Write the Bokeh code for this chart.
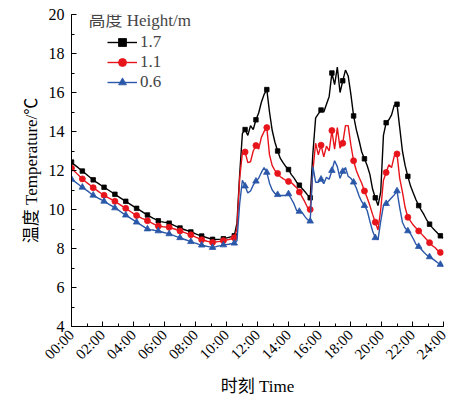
import math
from bokeh.plotting import figure
from bokeh.models import FixedTicker, Label, Legend, LegendItem
from bokeh.embed import file_html
from bokeh.resources import INLINE

# time grid: one reading every 0.175 h (markers every 4th reading = 0.7 h)
step_h = 0.175
n_pts = 138

t_17 = [12.43, 12.3, 12.2, 12.08, 11.97, 11.86, 11.74, 11.63, 11.52, 11.42,
        11.33, 11.23, 11.14, 11.05, 10.96, 10.87, 10.78, 10.69, 10.6, 10.51,
        10.42, 10.33, 10.24, 10.15, 10.06, 9.98, 9.89, 9.8, 9.72, 9.64,
        9.56, 9.49, 9.42, 9.38, 9.35, 9.33, 9.3, 9.24, 9.17, 9.11,
        9.05, 9.0, 8.95, 8.9, 8.85, 8.8, 8.74, 8.69, 8.64, 8.6,
        8.55, 8.51, 8.47, 8.46, 8.47, 8.48, 8.5, 8.53, 8.57, 8.61,
        8.65, 9.3, 11.8, 13.9, 14.1, 13.8, 14.3, 14.1, 14.6, 14.95,
        15.5, 15.9, 16.15, 15.0, 14.05, 13.45, 13.0, 12.62, 12.4, 12.2,
        12.05, 11.8, 11.62, 11.4, 11.25, 11.08, 10.92, 10.75, 10.6, 12.9,
        14.7, 14.9, 15.1, 15.0, 15.4, 15.8, 17.0, 16.4, 17.3, 16.0,
        16.6, 17.15, 16.85, 15.9, 14.8, 14.1, 13.55, 12.95, 12.6, 12.26,
        11.8, 11.05, 10.6, 10.2, 10.9, 13.8, 14.45, 14.6, 14.85, 15.35,
        15.4, 14.2, 13.0, 12.25, 11.7, 11.2, 10.85, 10.5, 10.2, 9.95,
        9.72, 9.45, 9.25, 9.07, 8.92, 8.78, 8.65, 8.52]

t_11 = [12.12, 11.98, 11.84, 11.7, 11.57, 11.45, 11.34, 11.23, 11.12, 11.02,
        10.92, 10.82, 10.73, 10.65, 10.57, 10.5, 10.42, 10.33, 10.24, 10.15,
        10.06, 9.97, 9.87, 9.78, 9.69, 9.62, 9.55, 9.49, 9.42, 9.35,
        9.28, 9.21, 9.15, 9.13, 9.11, 9.1, 9.09, 9.04, 9.0, 8.95,
        8.9, 8.85, 8.8, 8.75, 8.7, 8.64, 8.57, 8.51, 8.45, 8.41,
        8.37, 8.34, 8.31, 8.33, 8.35, 8.37, 8.4, 8.43, 8.46, 8.5,
        8.55, 9.0, 11.6, 12.9, 12.95, 12.4, 12.45, 13.0, 13.28, 13.1,
        13.7, 14.0, 14.2, 12.8, 12.25, 12.0, 11.85, 11.68, 11.58, 11.5,
        11.44, 11.38, 11.25, 11.12, 10.9, 10.65, 10.4, 10.1, 10.0, 12.0,
        13.4, 12.8, 13.3, 12.7, 13.25, 13.0, 14.05, 13.1, 14.2, 13.15,
        13.4, 14.3, 14.3, 13.3, 12.5, 12.0, 11.65, 11.35, 10.95, 10.6,
        10.2, 9.75, 9.35, 8.95, 10.0, 11.5, 11.9, 12.3, 12.15, 12.75,
        12.85, 11.6, 10.9, 10.1, 9.6, 9.4, 9.2, 9.05, 8.9, 8.75,
        8.6, 8.45, 8.3, 8.15, 8.05, 7.9, 7.8, 7.7]

t_06 = [11.55, 11.45, 11.35, 11.24, 11.14, 11.04, 10.94, 10.83, 10.73, 10.65,
        10.57, 10.5, 10.42, 10.34, 10.25, 10.17, 10.08, 9.99, 9.9, 9.8,
        9.71, 9.62, 9.53, 9.44, 9.35, 9.26, 9.17, 9.08, 9.0, 8.97,
        8.95, 8.92, 8.9, 8.86, 8.82, 8.79, 8.75, 8.7, 8.65, 8.6,
        8.55, 8.5, 8.45, 8.4, 8.35, 8.3, 8.26, 8.21, 8.17, 8.14,
        8.11, 8.08, 8.05, 8.08, 8.12, 8.15, 8.18, 8.2, 8.22, 8.25,
        8.27, 8.4, 10.3, 11.5, 11.2, 10.85, 10.95, 11.25, 11.45, 11.6,
        11.9, 12.15, 11.9, 11.35, 11.0, 10.82, 10.76, 10.72, 10.72, 10.72,
        10.8, 10.55, 10.3, 9.95, 9.9, 9.85, 9.65, 9.48, 9.4, 12.2,
        11.4, 11.4, 11.55, 11.32, 11.65, 11.55, 12.0, 12.5, 12.2, 11.6,
        11.95, 12.15, 11.7, 11.6, 11.4, 11.1, 10.7, 10.4, 10.2, 9.95,
        9.4, 8.9, 8.55, 8.45, 9.4, 10.2, 10.3, 10.45, 10.6, 10.75,
        10.95, 10.1, 9.35, 9.05, 8.9, 8.75, 8.5, 8.22, 8.1, 7.95,
        7.8, 7.66, 7.57, 7.48, 7.38, 7.27, 7.18, 7.08]

series_names = ["1.7", "1.1", "0.6"]
tick_hours = list(range(0, 25, 2))
tick_labels = ["00:00", "02:00", "04:00", "06:00", "08:00", "10:00", "12:00",
               "14:00", "16:00", "18:00", "20:00", "22:00", "24:00"]
y_ticks = [4, 6, 8, 10, 12, 14, 16, 18, 20]

hours = [round(k * step_h, 3) for k in range(n_pts)]

FONT = "'Liberation Serif', 'Times New Roman', 'Noto Sans CJK SC', serif"

p = figure(width=449, height=398, x_range=(0, 24), y_range=(4, 20),
           output_backend="svg", toolbar_location=None,
           min_border_left=71, min_border_right=6, min_border_top=14,
           min_border_bottom=72)
p.outline_line_color = None
p.xgrid.visible = False
p.ygrid.visible = False
p.background_fill_color = "white"
p.border_fill_color = "white"

styles = [
    dict(color="#000000", marker="square", size=4.5),
    dict(color="#e8141c", marker="circle", size=6),
    dict(color="#2a57a8", marker="triangle", size=6.5),
]

items = []
for name, vals, st in zip(series_names, [t_17, t_11, t_06], styles):
    ln = p.line(hours, vals, line_color=st["color"], line_width=1.4)
    sc = p.scatter(hours[::4], vals[::4], marker=st["marker"], size=st["size"],
                   fill_color=st["color"], line_color=st["color"], line_width=0.8)
    items.append(LegendItem(label=name, renderers=[ln, sc]))

# axes
p.xaxis.ticker = FixedTicker(ticks=tick_hours, minor_ticks=list(range(0, 25)))
p.xaxis.major_label_overrides = {h: lab for h, lab in zip(tick_hours, tick_labels)}
p.xaxis.major_label_orientation = math.pi / 4
p.yaxis.ticker = FixedTicker(ticks=y_ticks, minor_ticks=list(range(4, 21)))

for ax in (p.xaxis, p.yaxis):
    ax.axis_line_color = "black"
    ax.axis_line_width = 1
    ax.major_tick_in = 5
    ax.major_tick_out = 0
    ax.minor_tick_in = 3
    ax.minor_tick_out = 0
    ax.major_tick_line_color = "black"
    ax.minor_tick_line_color = "black"
    ax.major_label_text_font = FONT
    ax.major_label_text_font_size = "15px"
    ax.major_label_text_color = "black"
    ax.axis_label_text_font = FONT
    ax.axis_label_text_font_size = "17px"
    ax.axis_label_text_font_style = "normal"
    ax.axis_label_text_color = "black"

p.yaxis.major_label_text_font_size = "16px"
p.yaxis.major_label_standoff = 7
p.yaxis.axis_label_standoff = 5
p.xaxis.major_label_standoff = 6
p.xaxis.axis_label_standoff = 6
p.xaxis.axis_label = "时刻 Time"
p.yaxis.axis_label = "温度 Temperature/℃"

legend = Legend(items=items, location=(36, 234), padding=0, spacing=0, margin=0,
                glyph_width=30, glyph_height=20, label_height=20, label_standoff=3,
                border_line_color=None, background_fill_alpha=0,
                label_text_font=FONT, label_text_font_size="17px")
p.add_layout(legend)

title = Label(x=1.1, y=19.69, text="高度 Height/m", text_font=FONT,
              text_font_size="17px", text_baseline="middle", text_align="left")
p.add_layout(title)

open("out.html", "w").write(file_html(p, INLINE))
